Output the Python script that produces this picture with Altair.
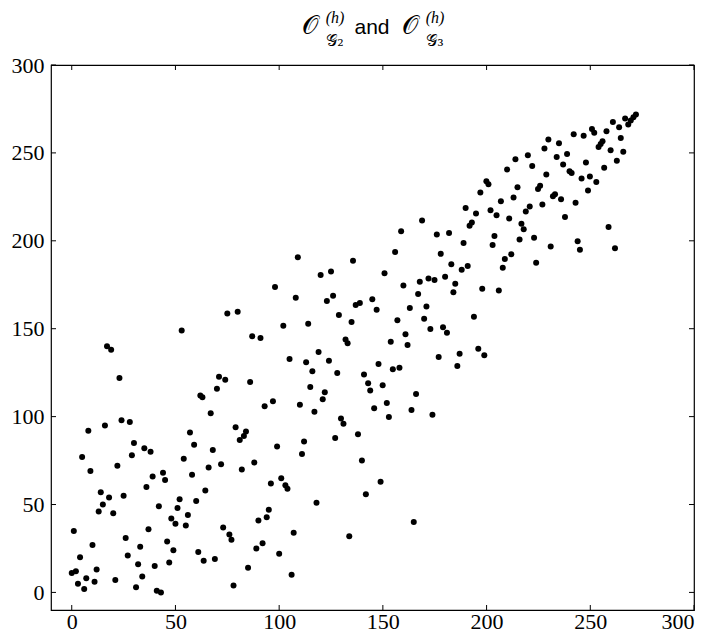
import altair as alt
import pandas as pd

# ---- data ----
x_values = [
    8, 57, 30, 5, 59, 35, 38, 29, 54, 22, 9, 44, 39, 58, 45, 36, 14, 18, 25, 64.4,
    52, 60, 15, 13, 20, 42, 51, 56, 48, 50, 55, 1, 37, 26, 10, 46, 33, 49, 4, 27,
    61, 63.6, 32, 47, 40, 12, 0, 2, 34, 7, 3, 11, 21, 6, 31, 41, 43,
    17, 19, 53, 23, 62, 63, 16, 24, 28,
    68, 81, 83, 84, 99, 112, 127, 111, 66, 72, 82, 88, 96, 101, 103, 104, 118, 95,
    94, 90, 73, 76, 77, 107, 133.8, 89, 92, 69, 100, 85, 106, 78,
    109, 135.6, 120, 125, 98, 108, 123, 126, 75, 80, 128.8, 134.9, 102, 114, 87, 91,
    132, 133, 119, 105, 113, 124, 116, 128, 71, 74, 70, 86, 115, 122, 121, 93, 97,
    110, 117, 67, 129.8, 131, 79,
    140.9, 142.9, 149.9, 143.9, 166, 151.9, 145.8, 163.8, 152.9, 173.9, 138, 139.9,
    148.9, 141.8, 164.9,
    199.9, 200.9, 197, 206.9, 189.9, 194.9, 201.9, 204.8, 168.9, 192.9, 191.8, 158.8,
    176, 181.9, 203.8, 202.9, 188.9, 155.9, 177.9, 208.8, 207.8, 183, 190.9, 188,
    150.8, 180, 172, 174.9, 167.8, 184.9, 159.9, 197.9, 205.9, 184, 167, 144.9,
    136.9, 138.9, 147, 163, 171, 157, 169.9, 193.9, 172.9, 179, 180.9, 160.9, 153.8,
    161.9, 187, 196, 198.9, 176.9, 147.9, 154.8, 158, 185.9,
    272, 270.8, 269.5, 268.3, 266.8, 263.9, 260.9, 257.8, 250.8, 251.9, 246.8, 242,
    264.7, 229.8, 234.9, 255.9, 255, 254, 227.9, 259.8, 265.9, 219.9, 238.8, 213.9,
    233.8, 222, 236.9, 247.9, 262.8, 256.7, 209.9, 240, 241, 228.8, 245.8, 249.8,
    252.9, 214.9, 225.8, 224.8, 248.9, 213, 233, 232, 235.9, 242.9, 226.9, 220.8,
    218.9, 210.9, 237.8, 216.8, 217.9, 258.8, 215.9, 222.9, 243.9, 230.9, 245, 261.9,
    211.9, 223.9,
]
y_values = [
    92, 91, 85, 77, 84, 82, 80, 78, 76, 72, 69, 68, 66, 67, 64, 60, 57, 54, 55, 58,
    53, 52, 50, 46, 45, 49, 48, 44, 42, 39, 38, 35, 36, 31, 27, 29, 26, 24, 20, 21,
    23, 18, 16, 17, 15, 13, 11, 12, 9, 8, 5, 6, 7, 2, 3, 1, 0,
    140, 138, 149, 122, 112, 111, 95, 98, 97,
    81, 86.7, 89, 91.5, 83, 85.8, 87.9, 78.8, 71, 72.9, 69.9, 73.9, 61.9, 65, 61, 58.9, 51, 47,
    42.8, 40.9, 36.9, 33, 30, 34, 32, 25, 28, 19, 22, 14, 10, 4,
    190.7, 188.6, 180.5, 182.6, 173.7, 167.6, 165.7, 168.8, 158.7, 159.7, 157.8, 153.8, 151.7, 152.8, 145.7, 144.7,
    143.8, 141.7, 136.8, 132.8, 130.9, 131.8, 125.8, 124.8, 122.7, 120.9, 115.9, 119.7, 116.9, 113.9, 109.9, 105.9, 108.7,
    106.8, 102.8, 101.9, 98.9, 95.9, 94,
    123.9, 119, 117.8, 114.8, 112.9, 107.8, 104.8, 103.8, 99.8, 101, 90, 75,
    62.9, 55.9, 40,
    233.9, 232.2, 227.5, 222.5, 218.6, 215.6, 217.4, 214.6, 211.6, 210.4, 208.5, 205.5,
    203.6, 204.5, 202.7, 197.6, 198.7, 193.6, 192.6, 189.6, 184.7, 186.6, 185.6, 183.5,
    181.6, 179.5, 178.6, 177.7, 176.7, 175.6, 174.6, 172.7, 171.8, 170.7, 169.7, 166.7,
    163.5, 164.6, 160.8, 161.8, 162.7, 154.8, 155.7, 156.8, 149.8, 150.8, 147.7, 146.8, 142.6,
    140.7, 135.8, 138.6, 134.9, 133.9, 129.9, 126.9, 127.8, 128.8,
    271.8, 270.3, 268.4, 266.1, 269.5, 264.6, 267.6, 262.3, 263.6, 261.4, 259.7, 260.6,
    258.5, 257.6, 255.5, 256.6, 255, 253.4, 252.5, 251.5, 250.6, 248.7, 249.4, 246.4,
    247.6, 242.6, 243.4, 244.5, 245.5, 241.5, 240.6, 239.6, 238.5, 237.7, 235.4, 236.6,
    233.5, 230.5, 231.3, 229.4, 228.6, 224.6, 226.5, 225.4, 223.7, 221.6, 220.7, 219.5,
    216.7, 212.7, 213.6, 209.7, 206.6, 207.8, 200.8, 201.7, 199.8, 196.8, 194.9, 195.7,
    192.4, 187.5,
]
tick_values = [0, 50, 100, 150, 200, 250, 300]
x_domain = [-10, 300]
y_domain = [-10, 300]

O_CAL = "\U0001D4AA"
G_CAL = "\U0001D4A2"
title_main = [O_CAL, "and", O_CAL]
title_sup = ["(h)", "(h)"]
title_sub = [G_CAL + "\u2082", G_CAL + "\u2083"]

W, H = 643, 545

pts = pd.DataFrame({"x": x_values, "y": y_values})
ticks = pd.DataFrame({"t": tick_values})

xs = alt.Scale(domain=x_domain, nice=False, zero=False)
ys = alt.Scale(domain=y_domain, nice=False, zero=False)

axis_common = dict(
    values=tick_values, grid=False, ticks=False, tickSize=0, domain=False,
    labelFont="Liberation Serif", labelFontSize=22, labelColor="black", title=None,
)

points = alt.Chart(pts).mark_circle(size=36, color="black", opacity=1).encode(
    x=alt.X("x:Q", scale=xs, axis=alt.Axis(labelPadding=1, **axis_common)),
    y=alt.Y("y:Q", scale=ys, axis=alt.Axis(labelPadding=7, **axis_common)),
)

tl = 5
tick_style = dict(color="black", strokeWidth=1)
bottom_ticks = alt.Chart(ticks).mark_rule(**tick_style).encode(
    x=alt.X("t:Q", scale=xs), y=alt.value(H), y2=alt.value(H - tl))
top_ticks = alt.Chart(ticks).mark_rule(**tick_style).encode(
    x=alt.X("t:Q", scale=xs), y=alt.value(0), y2=alt.value(tl))
left_ticks = alt.Chart(ticks).mark_rule(**tick_style).encode(
    y=alt.Y("t:Q", scale=ys), x=alt.value(0), x2=alt.value(tl))
right_ticks = alt.Chart(ticks).mark_rule(**tick_style).encode(
    y=alt.Y("t:Q", scale=ys), x=alt.value(W), x2=alt.value(W - tl))

def txt(s, x, y, size, font, style="normal"):
    return alt.Chart(pd.DataFrame({"s": [s]})).mark_text(
        font=font, fontSize=size, fontStyle=style, align="center",
        baseline="alphabetic", color="black",
    ).encode(text="s:N", x=alt.value(x), y=alt.value(y))

title_layers = [
    txt(title_main[0], 259, -31, 26, "DejaVu Serif"),
    txt(title_sup[0], 284, -42, 16, "Liberation Serif", "italic"),
    txt(title_sub[0], 284, -19, 16, "DejaVu Serif"),
    txt(title_main[1], 321, -31, 21, "Liberation Sans"),
    txt(title_main[2], 359, -31, 26, "DejaVu Serif"),
    txt(title_sup[1], 384, -42, 16, "Liberation Serif", "italic"),
    txt(title_sub[1], 384, -19, 16, "DejaVu Serif"),
]

chart = alt.layer(
    points, bottom_ticks, top_ticks, left_ticks, right_ticks, *title_layers
).properties(
    width=W, height=H,
    autosize=alt.AutoSizeParams(type="none"),
    padding={"left": 43, "top": 57, "right": 10, "bottom": 28},
).configure(background="white").configure_view(stroke="black", strokeWidth=1.2)

chart.save("out.html", embed_options={"renderer": "svg", "actions": False})
